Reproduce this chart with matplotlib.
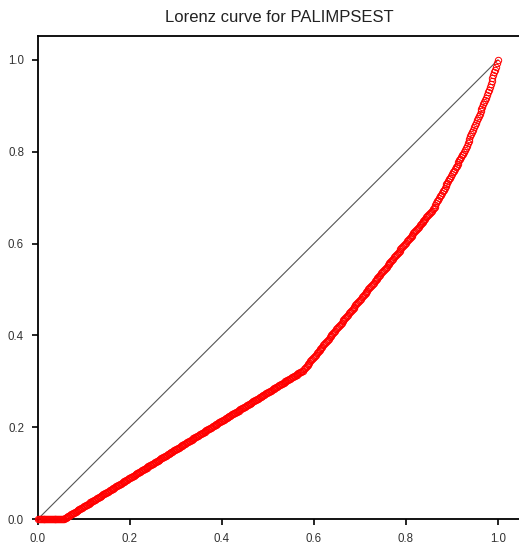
import numpy as np
from matplotlib import pyplot as plt

TITLE = "Lorenz curve for PALIMPSEST"

# observed values and how many times each occurs
values = [0, 1, 2, 3, 4, 5, 6]
counts = [28, 260, 142, 34, 24, 10, 2]
ticks = [0.0, 0.2, 0.4, 0.6, 0.8, 1.0]

plt.rcParams['font.family'] = ['Liberation Sans', 'DejaVu Sans']

# Lorenz curve from sorted data
data = np.repeat(values, counts)
data = np.sort(data)
p = np.arange(0, len(data) + 1) / len(data)
L = np.concatenate([[0], np.cumsum(data)]) / data.sum()

fig = plt.figure(figsize=(5.19, 5.44), dpi=100)
ax = fig.add_axes([38 / 519, 25 / 544, 483 / 519, 483 / 544])

ax.plot([0, 1], [0, 1], color="#555555", lw=0.8, zorder=2)
ax.plot(p, L, linestyle="none", marker="o", markersize=4.6,
        markerfacecolor="none", markeredgecolor="red", markeredgewidth=0.7,
        clip_on=False, zorder=3)

ax.set_xlim(0, 1.05)
ax.set_ylim(0, 1.052)
ax.set_xticks(ticks)
ax.set_yticks(ticks)
ax.set_xticklabels(["%.1f" % t for t in ticks])
ax.set_yticklabels(["%.1f" % t for t in ticks])
ax.spines["right"].set_visible(False)
for s in ["left", "top", "bottom"]:
    ax.spines[s].set_linewidth(1.3)
ax.tick_params(axis="both", direction="out", length=4, width=1.2,
               labelsize=8.3, labelcolor="#333333", pad=6)

ax.set_title(TITLE, fontsize=12, color="#222222", pad=10)

fig.savefig("out.png", dpi=100)
